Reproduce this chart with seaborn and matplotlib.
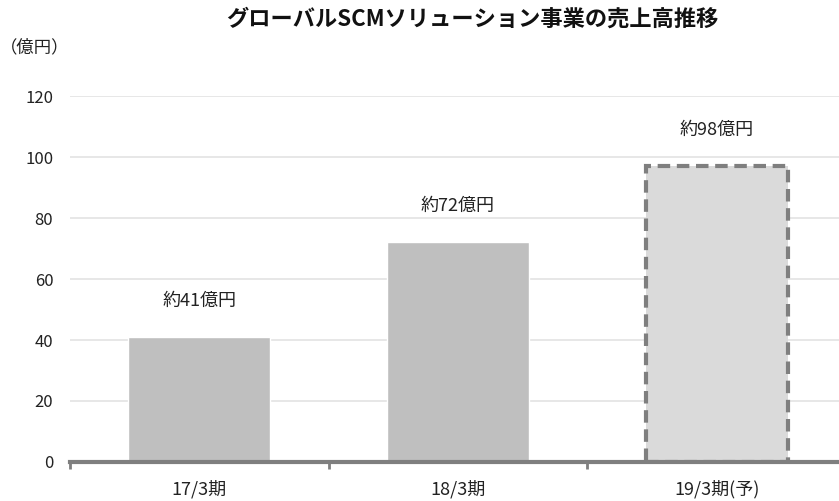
import matplotlib
matplotlib.use("Agg")
import matplotlib.pyplot as plt
import seaborn as sns
import pandas as pd

periods = ["17/3期", "18/3期", "19/3期(予)"]
sales = [41, 72, 97]
labels = ["約41億円", "約72億円", "約98億円"]
bar_colors = ["#bfbfbf", "#bfbfbf", "#dadada"]

sns.set_style("white")
plt.rcParams["font.family"] = ["Noto Sans CJK JP", "DejaVu Sans"]

df = pd.DataFrame({"period": periods, "sales": sales})

fig = plt.figure(figsize=(8.39, 5.01), dpi=100)
ax = fig.add_axes([0.0834, 0.078, 0.925, 0.730])

sns.barplot(data=df, x="period", y="sales", hue="period", palette=bar_colors,
            width=0.55, legend=False, ax=ax, zorder=2)

# forecast bar gets a dashed outline
p = ax.patches[2]
p.set_edgecolor("#7f7f7f")
p.set_linewidth(3)
p.set_linestyle((0, (3, 1.6)))

for i, (v, t) in enumerate(zip(sales, labels)):
    ax.annotate(t, (i, v), xytext=(0, 26), textcoords="offset points",
                ha="center", va="center", fontsize=13, color="#222222")

ax.set_ylim(0, 120)
ax.set_xlim(-0.5, 2.5)
ax.set_yticks(range(0, 121, 20))
ax.yaxis.grid(True, color="#e3e3e3", linewidth=1.2, zorder=0)
ax.tick_params(axis="y", length=0, labelsize=12, pad=12, labelcolor="#222222")

# category labels on minor ticks, boundary ticks on major ticks
ax.set_xticks([-0.5, 0.5, 1.5, 2.5])
ax.set_xticklabels([])
ax.set_xticks([0, 1, 2], minor=True)
ax.set_xticklabels(periods, minor=True)
ax.tick_params(axis="x", which="major", bottom=True, length=5, width=2,
               color="#7f7f7f", direction="out")
ax.tick_params(axis="x", which="minor", bottom=True, length=0, labelsize=13,
               pad=13, labelcolor="#222222")

ax.set_xlabel("")
ax.set_ylabel("")
for s in ["top", "right", "left"]:
    ax.spines[s].set_visible(False)
ax.spines["bottom"].set_color("#7f7f7f")
ax.spines["bottom"].set_linewidth(3)
ax.spines["bottom"].set_zorder(3)

fig.text(0.0, 0.905, "（億円）", fontsize=12.5, color="#222222", ha="left", va="center")
fig.text(0.563, 0.962, "グローバルSCMソリューション事業の売上高推移",
         fontsize=16, fontweight="bold", ha="center", va="center", color="#111111")

fig.savefig("out.png", dpi=100)
